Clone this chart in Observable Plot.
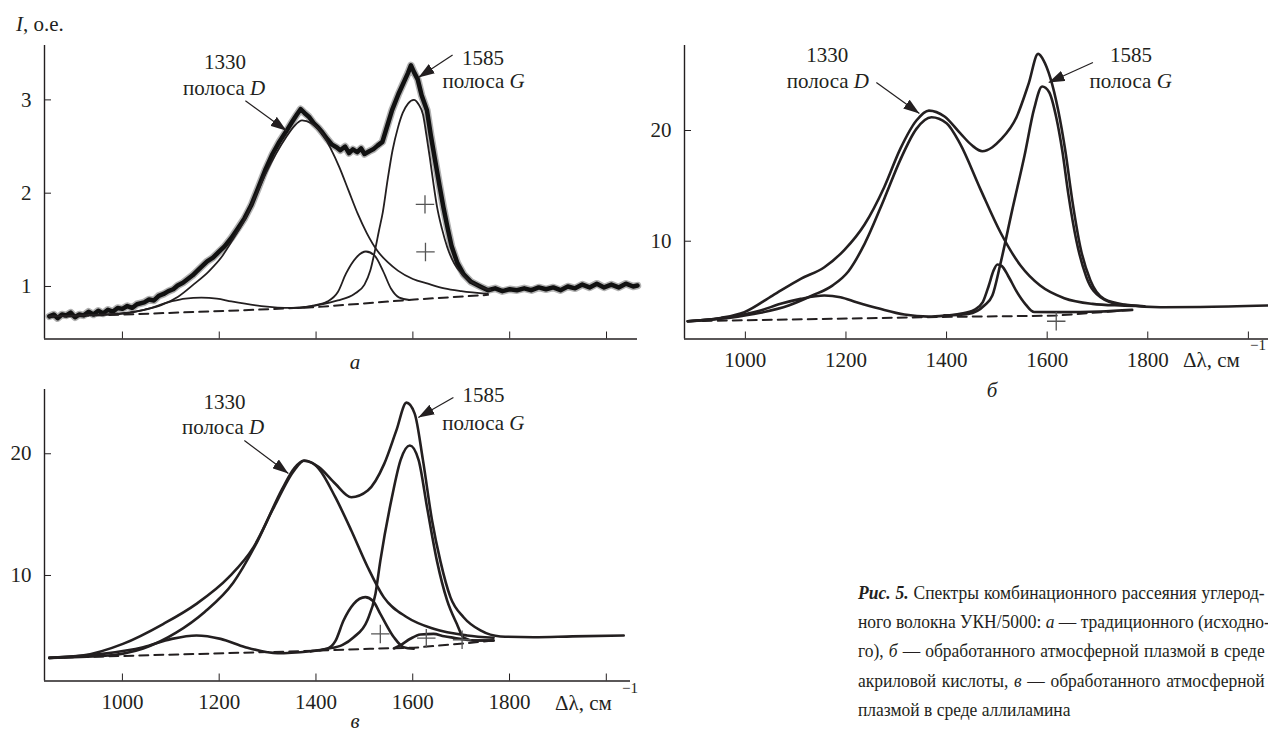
<!DOCTYPE html>
<html><head><meta charset="utf-8">
<script src="https://cdn.jsdelivr.net/npm/d3@7"></script>
<script src="https://cdn.jsdelivr.net/npm/@observablehq/plot@0.6"></script>
<style>
html,body{margin:0;padding:0;background:#fff;}
body{width:1268px;height:730px;position:relative;overflow:hidden;font-family:"Liberation Serif",serif;color:#231f20;}
.panel{position:absolute;}
.abs{position:absolute;white-space:nowrap;font-size:21px;line-height:1;}
.cap{position:absolute;left:858px;top:578px;width:442px;font-size:19px;line-height:29.2px;transform:scaleX(0.92);transform-origin:0 0;}
.cap div{text-align:justify;text-align-last:justify;white-space:nowrap;}
.cap div.last{text-align-last:left;}
svg text{font-family:"Liberation Serif",serif;}
</style></head><body>
<div id="pa" class="panel" style="left:0;top:0"></div>
<div id="pb" class="panel" style="left:640px;top:0"></div>
<div id="pv" class="panel" style="left:0;top:380px"></div>

<div class="abs" style="left:16px;top:24px;transform:translateY(-50%)"><i>I</i>, о.е.</div>
<div class="abs" style="left:355px;top:362px;transform:translate(-50%,-50%)"><i>а</i></div>
<div class="abs" style="left:992px;top:390px;transform:translate(-50%,-50%)"><i>б</i></div>
<div class="abs" style="left:355px;top:721px;transform:translate(-50%,-50%)"><i>в</i></div>
<div class="abs" style="left:1183px;top:360px;transform:translateY(-50%)">Δλ, см</div>
<div class="abs" style="left:1250px;top:345px;transform:translateY(-50%);font-size:15px">−1</div>
<div class="abs" style="left:555px;top:703px;transform:translateY(-50%)">Δλ, см</div>
<div class="abs" style="left:622px;top:688px;transform:translateY(-50%);font-size:15px">−1</div>

<div class="cap">
<div><b><i>Рис. 5.</i></b> Спектры комбинационного рассеяния углерод-</div>
<div>ного волокна УКН/5000: <i>а</i> — традиционного (исходно-</div>
<div>го), <i>б</i> — обработанного атмосферной плазмой в среде</div>
<div>акриловой кислоты, <i>в</i> — обработанного атмосферной</div>
<div class="last">плазмой в среде аллиламина</div>
</div>

<script>
// ---------- Panel а (traditional fibre), x: Δλ cm^-1, y: I, о.е. ----------
const aXTicks = [1000, 1200, 1400, 1600, 1800, 2000];
const aYTicks = [1, 2, 3];
const aRaw = [[849,0.68],[858,0.70],[866,0.66],[875,0.70],[884,0.69],[893,0.72],[902,0.67],[911,0.70],[920,0.69],[930,0.73],[940,0.70],[950,0.74],[960,0.71],[970,0.75],[980,0.73],[990,0.77],[1000,0.76],[1010,0.79],[1020,0.77],[1030,0.81],[1045,0.83],[1055,0.86],[1065,0.85],[1075,0.90],[1085,0.92],[1095,0.95],[1105,0.97],[1114,1.01],[1125,1.04],[1135,1.08],[1145,1.12],[1155,1.17],[1163,1.21],[1175,1.27],[1187,1.31],[1199,1.37],[1211,1.43],[1225,1.52],[1238,1.62],[1252,1.73],[1266,1.87],[1280,2.05],[1296,2.26],[1310,2.42],[1324,2.55],[1338,2.66],[1350,2.76],[1360,2.84],[1368,2.90],[1376,2.86],[1385,2.82],[1395,2.75],[1405,2.70],[1413,2.65],[1423,2.58],[1433,2.52],[1443,2.49],[1450,2.46],[1460,2.50],[1468,2.43],[1476,2.47],[1485,2.44],[1493,2.48],[1500,2.42],[1510,2.45],[1518,2.47],[1527,2.51],[1537,2.55],[1547,2.72],[1557,2.89],[1570,3.06],[1583,3.21],[1590,3.29],[1596,3.37],[1602,3.30],[1610,3.22],[1618,3.05],[1629,2.89],[1637,2.62],[1646,2.35],[1655,2.08],[1663,1.85],[1672,1.62],[1680,1.43],[1692,1.25],[1705,1.13],[1720,1.05],[1739,1.00],[1755,0.96],[1770,0.98],[1785,0.95],[1800,0.97],[1815,0.96],[1830,0.98],[1845,0.96],[1860,0.99],[1875,0.97],[1890,0.99],[1905,0.96],[1920,1.00],[1935,0.98],[1950,1.02],[1965,0.99],[1980,1.03],[1995,0.99],[2010,1.02],[2025,0.99],[2040,1.03],[2055,1.00],[2064,1.01]];
const aFitD = [[849,0.68],[930,0.69],[1004,0.71],[1045,0.75],[1080,0.80],[1115,0.89],[1149,1.03],[1178,1.16],[1204,1.31],[1230,1.52],[1252,1.71],[1275,1.97],[1296,2.21],[1318,2.43],[1338,2.60],[1355,2.72],[1371,2.78],[1390,2.75],[1413,2.64],[1430,2.48],[1448,2.28],[1467,2.03],[1486,1.78],[1505,1.57],[1527,1.38],[1548,1.26],[1569,1.17],[1600,1.08],[1631,1.03],[1665,0.98],[1700,0.95],[1755,0.92]];
const aBand1160 = [[849,0.68],[960,0.70],[1045,0.75],[1101,0.84],[1130,0.87],[1163,0.88],[1195,0.87],[1225,0.84],[1287,0.79],[1349,0.77],[1390,0.78]];
const aBand1500 = [[1362,0.77],[1390,0.79],[1424,0.84],[1445,0.94],[1462,1.14],[1483,1.31],[1503,1.375],[1521,1.33],[1538,1.17],[1555,0.975],[1572,0.88],[1593,0.855]];
const aFitG = [[1362,0.77],[1403,0.80],[1445,0.85],[1479,0.92],[1500,1.02],[1512,1.17],[1521,1.37],[1530,1.60],[1538,1.80],[1548,2.15],[1558,2.46],[1569,2.70],[1579,2.86],[1590,2.96],[1602,3.00],[1612,2.95],[1621,2.84],[1628,2.62],[1635,2.38],[1642,2.12],[1650,1.85],[1660,1.62],[1671,1.42],[1685,1.25],[1700,1.14],[1720,1.05],[1743,0.99],[1760,0.96]];
const aBase = [[849,0.67],[1004,0.70],[1252,0.745],[1403,0.78],[1603,0.86],[1755,0.91]];
const aPlus = [[1625,1.88],[1626,1.37]];
const aNotes = [[1212,3.40,"1330"],[1210,3.12,"полоса D"],[1745,3.45,"1585"],[1746,3.20,"полоса G"]];
const aArrows = [[1254,2.99,1339,2.67],[1682,3.48,1611.5,3.24]];

// ---------- Panel б (acrylic acid) ----------
const bXTicks = [1000, 1200, 1400, 1600, 1800, 2000];
const bXLabels = ["1000", "1200", "1400", "1600", "1800", ""];
const bYTicks = [10, 20];
const bSum = [[885.5,2.77],[950.6,3.07],[998,3.59],[1054,5.09],[1110,6.60],[1157,7.65],[1197,9.22],[1237,11.51],[1276,14.88],[1308,18.34],[1340,20.9],[1365,21.8],[1396,21.26],[1427,19.76],[1451,18.64],[1471,18.13],[1491,18.49],[1507,19.15],[1539,21.2],[1563,24.21],[1582,26.92],[1593,26.32],[1606,24.8],[1622,21.8],[1636,18.19],[1650,13.67],[1666,9.46],[1686,6.45],[1713,4.79],[1753,4.28],[1825,4.04],[1904,4.06],[2038,4.19]];
const bFitD = [[885.5,2.77],[966.5,3.07],[1030,3.53],[1086,4.19],[1133,5.09],[1173,5.99],[1205,7.29],[1237,9.76],[1276,13.82],[1308,17.35],[1340,20.15],[1370,21.2],[1400,20.66],[1427,18.79],[1467,14.73],[1507,10.81],[1547,7.80],[1586,5.99],[1634,4.85],[1690,4.34],[1745,4.19],[1793,4.13]];
const bBand1160 = [[885.5,2.77],[966.5,3.13],[1030,3.74],[1070,4.34],[1110,4.79],[1157,5.09],[1189,4.94],[1221,4.49],[1268,3.89],[1316,3.38],[1364,3.19],[1396,3.28]];
const bBand1500 = [[1396,3.28],[1427,3.45],[1455,3.80],[1472,4.50],[1484,6.0],[1493,7.3],[1501,7.9],[1510,7.75],[1522,6.9],[1540,5.4],[1557,4.3],[1574,3.6],[1626,3.59],[1705,3.65],[1769,3.80]];
const bFitG = [[1396,3.28],[1443,3.43],[1475,4.19],[1491,5.09],[1507,7.95],[1531,12.92],[1555,17.74],[1574,21.95],[1590,23.97],[1604,23.46],[1618,21.2],[1630,18.19],[1642,14.28],[1658,10.06],[1678,6.75],[1706,4.94],[1745,4.28],[1793,4.13]];
const bBase = [[885.5,2.77],[1348,3.13],[1618,3.28],[1769,3.80]];
const bPlus = [[1618,2.77]];
const bNotes = [[1163,26.78,"1330"],[1164,24.43,"полоса D"],[1766.6,26.78,"1585"],[1766,24.43,"полоса G"]];
const bArrows = [[1260.4,24.34,1346,21.54],[1691,26.14,1603,24.34]];

// ---------- Panel в (allylamine) ----------
const vXTicks = [1000, 1200, 1400, 1600, 1800, 2000];
const vXLabels = ["1000", "1200", "1400", "1600", "1800", ""];
const vYTicks = [10, 20];
const vSum = [[849,3.23],[917,3.42],[1001,4.38],[1085,6.03],[1153,7.67],[1220,9.86],[1271,12.33],[1313,15.6],[1355,18.63],[1376,19.45],[1406,18.9],[1440,17.53],[1473,16.43],[1507,16.98],[1541,19.17],[1566,21.9],[1587,24.2],[1604,23.3],[1621,19.5],[1640,14.5],[1657,11.2],[1678,8.2],[1705,6.57],[1740,5.48],[1781,4.99],[1850,4.93],[1930,5.0],[2036,5.07]];
const vFitD = [[849,3.23],[959,3.38],[1043,4.0],[1111,5.3],[1170,7.0],[1229,9.4],[1279,12.8],[1330,17.1],[1355,18.8],[1374,19.42],[1392,19.25],[1406,18.76],[1440,16.43],[1473,13.7],[1507,10.68],[1540,8.22],[1588,6.57],[1643,5.62],[1712,5.07],[1767,4.88]];
const vBand1160 = [[849,3.23],[959,3.56],[1043,4.11],[1102,4.79],[1153,5.07],[1203,4.79],[1254,4.11],[1321,3.61],[1389,3.78]];
const vBand1500 = [[1389,3.78],[1423,3.98],[1440,4.6],[1457,6.3],[1478,7.67],[1502,8.22],[1518,7.9],[1533,6.85],[1561,4.93],[1581,4.11],[1602,3.98]];
const vFitG = [[1389,3.78],[1423,3.98],[1455,4.3],[1478,4.93],[1506,6.3],[1523,8.5],[1533,11.2],[1557,16.43],[1575,19.5],[1594,20.68],[1612,19.5],[1630,15.5],[1650,11.2],[1671,7.95],[1691,6.03],[1705,4.9],[1726,4.66],[1767,4.66]];
const vBand1620 = [[1561,4.0],[1574,4.25],[1595,4.8],[1616,5.15],[1643,5.2],[1665,5.0],[1685,4.88],[1726,4.66],[1767,4.66]];
const vBase = [[849,3.23],[1368,3.78],[1512,3.98],[1602,4.06],[1698,4.39],[1767,4.66]];
const vPlus = [[1533,5.2],[1628,4.85],[1702,4.72]];
const vNotes = [[1211,24.2,"1330"],[1208,22.16,"полоса D"],[1746,24.79,"1585"],[1746,22.49,"полоса G"]];
const vArrows = [[1252,21.09,1343,18.38],[1684,24.63,1611.5,22.98]];

const INK = "#231f20";
const NS = "http://www.w3.org/2000/svg";
const FONT = "'Liberation Serif', serif";

function drawPanel(cfg) {
  const lineOpts = {x: "0", y: "1", curve: "monotone-x", stroke: INK, strokeWidth: cfg.fitWidth};
  const marks = [
    Plot.ruleY([cfg.yDomain[0]], {stroke: INK, strokeWidth: 1.4}),
    Plot.ruleX([cfg.xDomain[0]], {stroke: INK, strokeWidth: 1.4}),
    Plot.axisX(cfg.xTicks, {tickSize: -7, tickPadding: 20, label: null, stroke: INK, fill: INK, fontSize: 21, fontFamily: FONT,
      tickFormat: d => cfg.xLabels ? cfg.xLabels[cfg.xTicks.indexOf(d)] : ""}),
    Plot.axisY(cfg.yTicks, {tickSize: -7, tickPadding: 20, label: null, stroke: INK, fill: INK, fontSize: 21, fontFamily: FONT,
      tickFormat: d => String(d)}),
    Plot.line(cfg.base, {x: "0", y: "1", stroke: INK, strokeWidth: 2, strokeDasharray: "9,6"})
  ];
  if (cfg.raw) {
    marks.push(Plot.line(cfg.raw, {x: "0", y: "1", stroke: "#555", strokeWidth: 7.5, strokeOpacity: 0.45}));
    marks.push(Plot.line(cfg.raw, {x: "0", y: "1", stroke: "#111", strokeWidth: 4.5}));
  }
  for (const c of cfg.curves) marks.push(Plot.line(c, lineOpts));
  marks.push(Plot.dot(cfg.plus, {x: "0", y: "1", symbol: "plus", r: 6, stroke: "#555", strokeWidth: 1.3}));
  marks.push(Plot.text(cfg.notes, {x: "0", y: "1", text: "2", fontSize: 21, fontFamily: FONT, fill: INK}));
  marks.push(Plot.link(cfg.arrows, {x1: "0", y1: "1", x2: "2", y2: "3", stroke: INK, strokeWidth: 1.2}));

  const svg = Plot.plot({
    width: cfg.width, height: cfg.height,
    marginLeft: cfg.m[0], marginRight: cfg.m[1], marginTop: cfg.m[2], marginBottom: cfg.m[3],
    x: {domain: cfg.xDomain},
    y: {domain: cfg.yDomain},
    style: `font-family:${FONT};font-size:21px;color:${INK};background:transparent;overflow:visible;`,
    marks
  });

  // filled arrowheads
  const defs = document.createElementNS(NS, "defs");
  const marker = document.createElementNS(NS, "marker");
  marker.setAttribute("id", cfg.id + "-head");
  marker.setAttribute("viewBox", "0 0 16 11");
  marker.setAttribute("refX", "16"); marker.setAttribute("refY", "5.5");
  marker.setAttribute("markerWidth", "16"); marker.setAttribute("markerHeight", "11");
  marker.setAttribute("markerUnits", "userSpaceOnUse");
  marker.setAttribute("orient", "auto");
  const head = document.createElementNS(NS, "path");
  head.setAttribute("d", "M0,0L16,5.5L0,11Z");
  head.setAttribute("fill", INK);
  marker.appendChild(head); defs.appendChild(marker); svg.insertBefore(defs, svg.firstChild);
  svg.querySelectorAll('g[aria-label="link"] path').forEach(p => p.setAttribute("marker-end", `url(#${cfg.id}-head)`));

  // italic band letters
  svg.querySelectorAll("text").forEach(t => {
    const m = /^полоса ([DG])$/.exec(t.textContent);
    if (m) {
      t.textContent = "полоса ";
      const ts = document.createElementNS(NS, "tspan");
      ts.setAttribute("font-style", "italic");
      ts.textContent = m[1];
      t.appendChild(ts);
    }
  });
  document.getElementById(cfg.id).appendChild(svg);
}

drawPanel({id: "pa", width: 640, height: 380, m: [44, 3, 45, 41.5],
  xDomain: [839, 2064], yDomain: [0.437, 3.583], xTicks: aXTicks, xLabels: null, yTicks: aYTicks,
  raw: aRaw, curves: [aFitD, aBand1160, aBand1500, aFitG], base: aBase, plus: aPlus,
  notes: aNotes, arrows: aArrows, fitWidth: 1.8});

drawPanel({id: "pb", width: 628, height: 400, m: [44, 0, 45, 61.5],
  xDomain: [879, 2040], yDomain: [1.165, 27.68], xTicks: bXTicks, xLabels: bXLabels, yTicks: bYTicks,
  raw: null, curves: [bSum, bFitD, bBand1160, bBand1500, bFitG], base: bBase, plus: bPlus,
  notes: bNotes, arrows: bArrows, fitWidth: 2.6});

drawPanel({id: "pv", width: 640, height: 350, m: [44, 10, 9, 49.5],
  xDomain: [839, 2050], yDomain: [1.33, 25.28], xTicks: vXTicks, xLabels: vXLabels, yTicks: vYTicks,
  raw: null, curves: [vSum, vFitD, vBand1160, vBand1500, vFitG, vBand1620], base: vBase, plus: vPlus,
  notes: vNotes, arrows: vArrows, fitWidth: 2.6});
</script>
</body></html>
